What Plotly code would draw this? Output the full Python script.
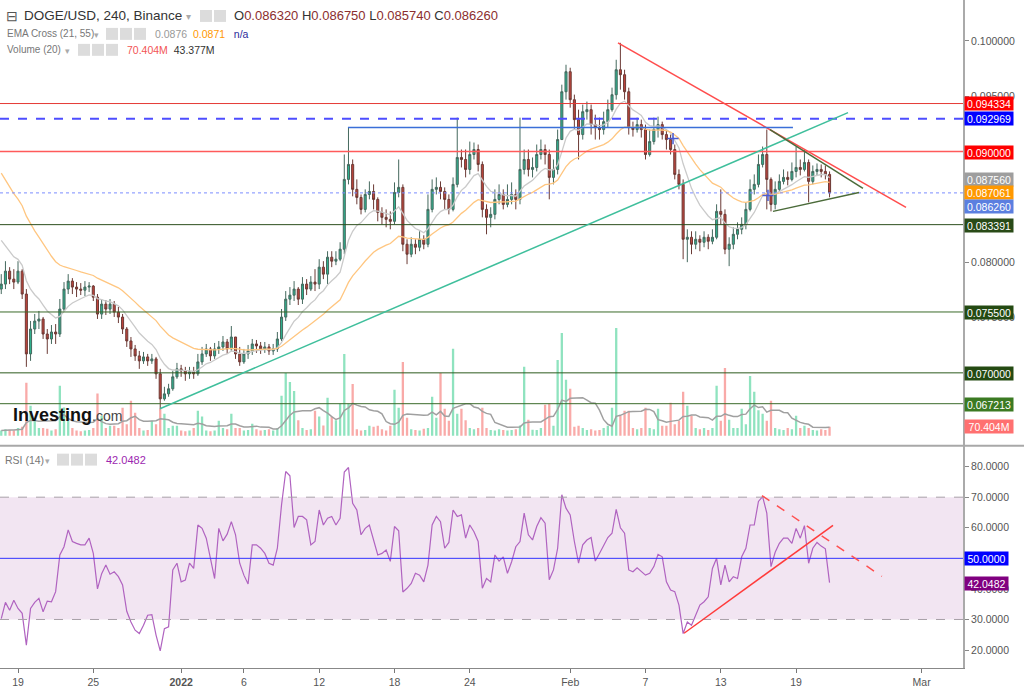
import pandas as pd
import plotly.graph_objects as go

# ---- data (8h candles) ----
START = "2021-12-17 16:00"
FIRST_OPEN = 0.07757

closes = [
    0.07802, 0.07919, 0.07847, 0.07820, 0.07919, 0.07712, 0.07171,
    0.07396, 0.07468, 0.07486, 0.07351, 0.07306, 0.07369, 0.07351,
    0.07576, 0.07757, 0.07829, 0.07775, 0.07757, 0.07747, 0.07775,
    0.07784, 0.07684, 0.07531, 0.07621, 0.07576, 0.07621, 0.07549,
    0.07504, 0.07396, 0.07288, 0.07216, 0.07153, 0.07108, 0.07144,
    0.07108, 0.07126, 0.06991, 0.06765, 0.06810, 0.06856, 0.06964,
    0.07036, 0.07018, 0.06991, 0.07009, 0.06991, 0.07099, 0.07171,
    0.07216, 0.07153, 0.07216, 0.07234, 0.07279, 0.07216, 0.07324,
    0.07171, 0.07099, 0.07171, 0.07198, 0.07261, 0.07243, 0.07216,
    0.07234, 0.07198, 0.07216, 0.07306, 0.07504, 0.07666, 0.07702,
    0.07757, 0.07666, 0.07802, 0.07757, 0.07820, 0.07802, 0.07955,
    0.07892, 0.08045, 0.08009, 0.08027, 0.08117, 0.08748, 0.08883,
    0.08658, 0.08585, 0.08477, 0.08612, 0.08639, 0.08567, 0.08450,
    0.08405, 0.08387, 0.08369, 0.08630, 0.08676, 0.08162, 0.08072,
    0.08162, 0.08135, 0.08207, 0.08162, 0.08477, 0.08658, 0.08676,
    0.08639, 0.08567, 0.08477, 0.08703, 0.08946, 0.08928, 0.08838,
    0.08973, 0.09018, 0.08883, 0.08477, 0.08405, 0.08432, 0.08567,
    0.08612, 0.08522, 0.08567, 0.08612, 0.08567, 0.08838, 0.08928,
    0.08838, 0.08856, 0.08973, 0.09018, 0.08973, 0.08766, 0.08838,
    0.09108, 0.09540, 0.09721, 0.09468, 0.09288, 0.09153, 0.09360,
    0.09378, 0.09243, 0.09216, 0.09198, 0.09270, 0.09378, 0.09513,
    0.09739, 0.09694, 0.09540, 0.09216, 0.09198, 0.09243, 0.09198,
    0.08973, 0.09090, 0.09198, 0.09243, 0.09153, 0.09108, 0.09018,
    0.08793, 0.08703, 0.08207, 0.08225, 0.08162, 0.08207, 0.08180,
    0.08225, 0.08189, 0.08225, 0.08459, 0.08432, 0.08117, 0.08162,
    0.08252, 0.08297, 0.08342, 0.08477, 0.08658, 0.08703, 0.08883,
    0.08973, 0.08748, 0.08522, 0.08658, 0.08730, 0.08766, 0.08748,
    0.08820, 0.08856, 0.08838, 0.08901, 0.08730, 0.08820, 0.08838,
    0.08820, 0.08793, 0.08626,
]

highs = [
    0.07892, 0.08009, 0.07955, 0.07937, 0.08009, 0.07937, 0.07757,
    0.07469, 0.07532, 0.07559, 0.07505, 0.07396, 0.07432, 0.07441,
    0.07667, 0.07820, 0.07892, 0.07856, 0.07820, 0.07811, 0.07829,
    0.07820, 0.07793, 0.07712, 0.07667, 0.07658, 0.07667, 0.07649,
    0.07595, 0.07532, 0.07414, 0.07324, 0.07252, 0.07198, 0.07189,
    0.07171, 0.07171, 0.07144, 0.07036, 0.06874, 0.06901, 0.07018,
    0.07090, 0.07072, 0.07054, 0.07054, 0.07054, 0.07171, 0.07234,
    0.07261, 0.07234, 0.07270, 0.07288, 0.07333, 0.07306, 0.07423,
    0.07324, 0.07234, 0.07216, 0.07252, 0.07306, 0.07297, 0.07279,
    0.07279, 0.07261, 0.07261, 0.07369, 0.07577, 0.07739, 0.07775,
    0.07829, 0.07775, 0.07865, 0.07847, 0.07874, 0.07937, 0.08027,
    0.08009, 0.08099, 0.08099, 0.08099, 0.08180, 0.08973, 0.09216,
    0.08928, 0.08748, 0.08612, 0.08658, 0.08730, 0.08703, 0.08586,
    0.08496, 0.08477, 0.08459, 0.08721, 0.08928, 0.08703, 0.08207,
    0.08225, 0.08207, 0.08279, 0.08243, 0.08612, 0.08748, 0.08766,
    0.08730, 0.08676, 0.08612, 0.08766, 0.09306, 0.09018, 0.09018,
    0.09090, 0.09081, 0.09063, 0.08910, 0.08523, 0.08496, 0.08658,
    0.08703, 0.08658, 0.08703, 0.08721, 0.08658, 0.09306, 0.09018,
    0.09018, 0.08946, 0.09063, 0.09108, 0.09063, 0.09018, 0.08928,
    0.09198, 0.09604, 0.09784, 0.09757, 0.09514, 0.09378, 0.09424,
    0.09451, 0.09424, 0.09333, 0.09306, 0.09360, 0.09469, 0.09577,
    0.09829, 0.09982, 0.09739, 0.09577, 0.09270, 0.09306, 0.09288,
    0.09243, 0.09198, 0.09306, 0.09315, 0.09270, 0.09198, 0.09153,
    0.09063, 0.08838, 0.08748, 0.08297, 0.08279, 0.08279, 0.08243,
    0.08279, 0.08252, 0.08297, 0.08523, 0.08658, 0.08477, 0.08225,
    0.08315, 0.08360, 0.08405, 0.08541, 0.08748, 0.08793, 0.08973,
    0.09045, 0.09198, 0.08766, 0.08730, 0.08793, 0.08838, 0.08820,
    0.08901, 0.09045, 0.08928, 0.09018, 0.08928, 0.08874, 0.08892,
    0.08883, 0.08874, 0.08820,
]

lows = [
    0.07712, 0.07757, 0.07802, 0.07757, 0.07802, 0.07667, 0.07054,
    0.07108, 0.07351, 0.07396, 0.07306, 0.07171, 0.07261, 0.07261,
    0.07324, 0.07559, 0.07712, 0.07712, 0.07685, 0.07703, 0.07694,
    0.07730, 0.07649, 0.07487, 0.07487, 0.07523, 0.07532, 0.07505,
    0.07450, 0.07351, 0.07234, 0.07144, 0.07108, 0.07036, 0.07081,
    0.07063, 0.07081, 0.06946, 0.06658, 0.06748, 0.06784, 0.06838,
    0.06946, 0.06964, 0.06928, 0.06946, 0.06946, 0.06973, 0.07072,
    0.07144, 0.07108, 0.07126, 0.07171, 0.07198, 0.07171, 0.07198,
    0.07126, 0.07063, 0.07081, 0.07126, 0.07162, 0.07180, 0.07171,
    0.07180, 0.07162, 0.07162, 0.07189, 0.07288, 0.07469, 0.07613,
    0.07649, 0.07613, 0.07622, 0.07703, 0.07739, 0.07739, 0.07757,
    0.07847, 0.07802, 0.07955, 0.07973, 0.08009, 0.08072, 0.08703,
    0.08595, 0.08523, 0.08432, 0.08450, 0.08568, 0.08477, 0.08369,
    0.08342, 0.08315, 0.08297, 0.08342, 0.08586, 0.08099, 0.07982,
    0.08045, 0.08072, 0.08099, 0.08117, 0.08135, 0.08450, 0.08612,
    0.08568, 0.08477, 0.08432, 0.08459, 0.08676, 0.08856, 0.08766,
    0.08793, 0.08928, 0.08820, 0.08405, 0.08252, 0.08315, 0.08387,
    0.08523, 0.08477, 0.08496, 0.08523, 0.08477, 0.08523, 0.08793,
    0.08775, 0.08766, 0.08820, 0.08928, 0.08883, 0.08568, 0.08703,
    0.08793, 0.09108, 0.09469, 0.09396, 0.09198, 0.08928, 0.09108,
    0.09288, 0.09153, 0.09108, 0.09108, 0.09153, 0.09216, 0.09360,
    0.09469, 0.09559, 0.09469, 0.09153, 0.09135, 0.09171, 0.09126,
    0.08928, 0.08955, 0.09063, 0.09126, 0.09108, 0.09018, 0.08973,
    0.08748, 0.08658, 0.08027, 0.08000, 0.08072, 0.08117, 0.08099,
    0.08135, 0.08117, 0.08162, 0.08207, 0.08342, 0.08072, 0.07964,
    0.08117, 0.08207, 0.08252, 0.08297, 0.08459, 0.08612, 0.08676,
    0.08856, 0.08477, 0.08459, 0.08477, 0.08640, 0.08703, 0.08694,
    0.08730, 0.08766, 0.08784, 0.08820, 0.08541, 0.08703, 0.08784,
    0.08766, 0.08748, 0.08586,
]

volumes = [  # millions
    40, 50, 45, 40, 60, 70, 415, 235, 117, 60,
    60, 55, 40, 50, 390, 220, 117, 60, 40, 35,
    40, 45, 60, 330, 156, 60, 78, 78, 60, 218,
    90, 273, 180, 60, 40, 45, 117, 90, 210, 172,
    60, 78, 78, 40, 35, 40, 60, 195, 150, 40,
    35, 40, 117, 60, 50, 172, 60, 60, 40, 45,
    94, 50, 40, 45, 50, 40, 60, 312, 490, 420,
    350, 120, 60, 45, 50, 195, 150, 80, 296, 150,
    120, 250, 640, 250, 405, 50, 40, 45, 78, 70,
    78, 50, 40, 78, 360, 218, 577, 140, 50, 45,
    40, 55, 60, 304, 140, 490, 210, 117, 680, 172,
    210, 120, 60, 50, 60, 218, 60, 45, 40, 50,
    45, 40, 45, 50, 80, 540, 125, 47, 45, 60,
    242, 250, 78, 593, 803, 437, 367, 70, 78, 60,
    45, 50, 40, 45, 60, 78, 218, 842, 156, 195,
    195, 60, 50, 60, 218, 60, 50, 210, 78, 78,
    257, 90, 117, 343, 234, 156, 60, 50, 60, 45,
    60, 390, 117, 530, 125, 60, 60, 210, 90, 468,
    343, 200, 172, 117, 273, 60, 50, 45, 60, 50,
    156, 60, 78, 60, 45, 40, 50, 45, 70.404,
]

rsi_vals = [
    30.3, 35.6, 33.0, 36.3, 33.6, 32.0, 21.6, 33.6, 35.6, 36.9,
    32.5, 36.0, 35.8, 39.1, 51.1, 53.8, 59.3, 55.5, 54.9, 54.4,
    54.4, 56.6, 51.6, 40.0, 45.0, 47.8, 44.8, 45.6, 44.0, 41.3,
    32.7, 29.2, 26.5, 25.4, 28.1, 31.4, 31.6, 24.9, 19.7, 27.0,
    27.6, 46.2, 48.4, 42.3, 42.9, 48.4, 46.7, 60.9, 59.8, 56.6,
    50.0, 43.4, 59.8, 55.7, 57.9, 62.0, 57.7, 48.4, 44.5, 41.6,
    54.4, 54.4, 53.3, 51.6, 48.4, 47.8, 53.3, 67.5, 78.4, 77.0,
    60.1, 63.7, 63.7, 62.6, 54.4, 55.5, 65.8, 60.9, 63.1, 63.7,
    60.9, 63.1, 78.2, 79.7, 68.0, 65.8, 57.7, 59.8, 60.9, 55.5,
    51.1, 51.6, 52.7, 49.0, 60.4, 59.0, 39.0, 40.2, 41.8, 45.1,
    44.5, 42.3, 47.8, 60.9, 63.7, 62.0, 53.3, 55.2, 65.8, 63.7,
    64.2, 56.6, 60.9, 58.7, 55.5, 40.2, 43.4, 42.3, 51.1, 49.1,
    50.5, 45.1, 48.9, 53.8, 55.5, 64.8, 57.7, 56.0, 60.4, 63.3,
    61.5, 43.0, 46.2, 53.3, 70.8, 66.4, 64.2, 55.5, 48.4, 54.4,
    56.0, 56.8, 49.1, 51.6, 54.4, 56.8, 58.2, 66.0, 60.0, 58.2,
    46.2, 45.6, 46.9, 45.6, 44.5, 45.1, 47.3, 51.3, 50.5, 42.3,
    39.6, 39.1, 34.7, 25.4, 29.2, 28.1, 31.4, 34.7, 35.8, 37.4,
    46.7, 50.0, 41.3, 47.8, 42.3, 44.0, 43.4, 50.5, 53.3, 60.9,
    60.9, 68.6, 70.2, 64.8, 47.3, 52.0, 54.9, 56.6, 56.6, 54.9,
    59.8, 56.6, 60.7, 48.4, 53.3, 55.2, 54.0, 53.1, 42.0482,
]

EMA21_SEED = 0.0828
EMA55_SEED = 0.0888

level_prices = [0.094334, 0.092969, 0.090000, 0.083391, 0.075500, 0.070000, 0.067213]
level_colors = ["#e53935", "#4d4dff", "#ff5a5a", "#2d4f1e", "#3b6b2a", "#2d5a1e", "#3b6b2a"]
level_widths = [1, 2, 1.5, 1, 1, 1, 1]
level_dash = ["solid", "dash", "solid", "solid", "solid", "solid", "solid"]
last_price = 0.086260

box_texts = ["0.094334", "0.092969", "0.090000", "0.087560", "0.087061", "0.086260",
             "0.083391", "0.075500", "0.070000", "0.067213", "70.404M", "50.0000", "42.0482"]
box_colors = ["#ff0000", "#0000ff", "#ff0000", "#9e9e9e", "#ff9800", "#5b7fe0",
              "#294a17", "#244a12", "#244a12", "#3b7a22", "#ff7070", "#0000ff", "#800080"]
box_rows = [104, 119, 152.5, 180, 193, 207, 226, 313, 375, 406, 428, 560, 585]
box_widths = [46, 46, 46, 46, 46, 46, 46, 46, 46, 46, 46, 41, 41]

# price / rsi ticks that are not fully hidden behind a label box
price_ticks = [0.075, 0.080, 0.095, 0.100]
rsi_ticks = [20, 30, 40, 60, 70, 80]

tick_dates = ["2021-12-19", "2021-12-25", "2022-01-01", "2022-01-06", "2022-01-12", "2022-01-18",
              "2022-01-24", "2022-02-01", "2022-02-07", "2022-02-13", "2022-02-19", "2022-03-01"]
tick_text = ["19", "25", "<b>2022</b>", "6", "12", "18", "24", "Feb", "7", "13", "19", "Mar"]

# trend lines: (t0, p0, t1, p1, color, dash)
main_trends = [
    ("2022-02-04 19:26", 0.09982, "2022-02-27 18:14", 0.08496, "#ff4d4d", "solid"),
    ("2021-12-30 07:26", 0.06676, "2022-02-23 03:20", 0.09351, "#3fbf9c", "solid"),
    ("2022-01-14 07:00", 0.09216, "2022-02-18 18:00", 0.09216, "#3a6fd8", "solid"),
    ("2022-02-16 22:05", 0.09198, "2022-02-24 07:55", 0.08667, "#4b6b3a", "solid"),
    ("2022-02-17 03:50", 0.08459, "2022-02-24 00:15", 0.08630, "#4b6b3a", "solid"),
]
rsi_trends = [
    ("2022-02-10 01:40", 25.5, "2022-02-21 22:34", 60.8, "#ff3b3b", "solid"),
    ("2022-02-16 06:43", 70.5, "2022-02-25 20:10", 44.1, "#ff5050", "dash"),
]
cross_times = ["2022-02-09 04:40", "2022-02-16 18:15"]
cross_prices = [0.09117, 0.08603]

# ---- derived series ----
times = pd.date_range(START, periods=len(closes), freq="8h")
opens = [FIRST_OPEN] + closes[:-1]
highs = [max(h, o, c) for h, o, c in zip(highs, opens, closes)]
lows = [min(l, o, c) for l, o, c in zip(lows, opens, closes)]
ema21 = pd.Series([EMA21_SEED] + closes).ewm(span=10.5, adjust=False).mean().iloc[1:]
ema55 = pd.Series([EMA55_SEED] + closes).ewm(span=27.5, adjust=False).mean().iloc[1:]
vol_ma = pd.Series(volumes).rolling(10, min_periods=1).mean()
vol_colors = ["#8fe3bf" if c >= o else "#f9aaa8" for o, c in zip(opens, closes)]

W_PLOT, H_PLOT = 963, 670
FONT = "Liberation Sans"


def px(x):
    return x / W_PLOT


def py(y):
    return 1 - y / H_PLOT


fig = go.Figure()

fig.add_trace(go.Bar(
    x=times, y=volumes, yaxis="y3", marker_color=vol_colors,
    marker_line_width=0, width=8 * 3600 * 1000 * 0.55,
))
fig.add_trace(go.Scatter(
    x=times, y=vol_ma, yaxis="y3", mode="lines",
    line=dict(color="#a0a0a0", width=1.5),
))
fig.add_trace(go.Scatter(x=times, y=ema21, mode="lines", line=dict(color="#cacaca", width=1.3)))
fig.add_trace(go.Scatter(x=times, y=ema55, mode="lines", line=dict(color="#ffc680", width=1.3)))
fig.add_trace(go.Candlestick(
    x=times, open=opens, high=highs, low=lows, close=closes,
    increasing=dict(fillcolor="#2fb08e", line=dict(color="#45695e", width=1)),
    decreasing=dict(fillcolor="#c1443c", line=dict(color="#6b3a35", width=1)),
))
fig.add_trace(go.Scatter(
    x=cross_times, y=cross_prices, mode="markers",
    marker=dict(symbol="cross-thin", size=8, line=dict(color="#4a5bd4", width=1.5)),
))
fig.add_trace(go.Scatter(
    x=times, y=rsi_vals, yaxis="y2", mode="lines",
    line=dict(color="#b063c0", width=1.2),
))

shapes = []
# rsi band
shapes.append(dict(type="rect", xref="paper", x0=0, x1=1, yref="y2", y0=30, y1=70,
                   fillcolor="#f2e5f2", line_width=0, layer="below"))
for v in (70, 30):
    shapes.append(dict(type="line", xref="paper", x0=0, x1=1, yref="y2", y0=v, y1=v,
                       line=dict(color="#a8a0a8", width=1, dash="dash")))
shapes.append(dict(type="line", xref="paper", x0=0, x1=1, yref="y2", y0=50, y1=50,
                   line=dict(color="#3333ff", width=1)))
for p, c, w, d in zip(level_prices, level_colors, level_widths, level_dash):
    shapes.append(dict(type="line", xref="paper", x0=0, x1=1, yref="y", y0=p, y1=p,
                       line=dict(color=c, width=w, dash=d)))
shapes.append(dict(type="line", xref="paper", x0=0, x1=1, yref="y", y0=last_price, y1=last_price,
                   line=dict(color="#7b8cff", width=1, dash="dot")))
for t0, p0, t1, p1, c, d in main_trends:
    shapes.append(dict(type="line", xref="x", yref="y", x0=t0, y0=p0, x1=t1, y1=p1,
                       line=dict(color=c, width=1.5, dash=d)))
for t0, p0, t1, p1, c, d in rsi_trends:
    shapes.append(dict(type="line", xref="x", yref="y2", x0=t0, y0=p0, x1=t1, y1=p1,
                       line=dict(color=c, width=1.5, dash=d)))
# pane separator
shapes.append(dict(type="line", xref="paper", yref="paper", x0=0, x1=1024 / W_PLOT,
                   y0=py(447), y1=py(447), line=dict(color="#a8a8a8", width=2)))
# header icons
icon_sets = [(200, 10, 2), (106, 28, 3), (78, 44, 3), (57, 455, 3)]
for x0, y0, n in icon_sets:
    for k in range(n):
        shapes.append(dict(type="rect", xref="paper", yref="paper",
                           x0=px(x0 + 14 * k), x1=px(x0 + 14 * k + 12),
                           y0=py(y0 + 12), y1=py(y0), fillcolor="#dcdcdc", line_width=0))

ann = []
for txt, col, row, w in zip(box_texts, box_colors, box_rows, box_widths):
    ann.append(dict(xref="paper", yref="paper", x=1, xshift=1, y=py(row), xanchor="left",
                    yanchor="middle", text=txt, showarrow=False, bgcolor=col,
                    font=dict(color="white", size=10.5, family=FONT),
                    width=w, height=11, borderpad=1, align="center"))


def label(x, y, text, size=11, color="#666"):
    ann.append(dict(xref="paper", yref="paper", x=px(x), y=py(y), xanchor="left",
                    yanchor="middle", text=text, showarrow=False,
                    font=dict(size=size, color=color, family=FONT)))


label(4, 16, "⊟", 14, "#555")
label(22, 16, "DOGE/USD, 240, Binance", 13.5, "#333")
label(184, 17, "▾", 10, "#aaa")
red = "#8b2e2e"
label(232, 16, f"O<span style='color:{red}'>0.086320</span> H<span style='color:{red}'>0.086750</span>"
      f" L<span style='color:{red}'>0.085740</span> C<span style='color:{red}'>0.086260</span>", 13, "#333")
label(5, 34, "EMA Cross (21, 55)", 10, "#777")
label(92, 35, "▾", 9, "#aaa")
label(153, 34, "<span style='color:#999'>0.0876</span>  <span style='color:#ff9800'>0.0871</span>"
      "   <span style='color:#2a2a9a'>n/a</span>", 10.5)
label(5, 50, "Volume (20)", 10, "#777")
label(63, 51, "▾", 9, "#aaa")
label(125, 50, "<span style='color:#f25555'>70.404M</span>  <span style='color:#333'>43.377M</span>", 10.5)
label(3, 461, "RSI (14)", 10.5, "#777")
label(43, 462, "▾", 9, "#aaa")
label(104, 461, "42.0482", 11, "#9c27b0")
label(11, 416, "<b>Investing</b><span style='font-size:14px;color:#444'>.com</span>", 18, "#111")

fig.update_layout(
    width=1024, height=688,
    margin=dict(l=0, r=61, t=0, b=18),
    plot_bgcolor="white", paper_bgcolor="white",
    showlegend=False, hovermode=False,
    shapes=shapes, annotations=ann,
    font=dict(family=FONT, size=11, color="#555"),
    xaxis=dict(
        type="date", range=["2021-12-17 13:35", "2022-03-04 07:12"],
        tickvals=tick_dates, ticktext=tick_text, anchor="y2",
        ticks="outside", ticklen=4, tickcolor="#777",
        showline=True, linecolor="#888", linewidth=1,
        showgrid=False, zeroline=False, rangeslider=dict(visible=False),
        tickfont=dict(size=10.5, color="#555"),
    ),
    yaxis=dict(
        domain=[py(447), 1], range=[0.06342, 0.10369], side="right",
        tickvals=price_ticks,
        tickformat=".6f", ticks="outside", ticklen=4, tickcolor="#888",
        showline=True, linecolor="#aaa", linewidth=2,
        showgrid=False, zeroline=False, tickfont=dict(size=10.5, color="#555"),
    ),
    yaxis2=dict(
        domain=[0, py(447)], range=[14.13, 86.85], side="right", anchor="x",
        tickvals=rsi_ticks, tickformat=".4f",
        ticks="outside", ticklen=4, tickcolor="#888",
        showline=True, linecolor="#aaa", linewidth=2,
        showgrid=False, zeroline=False, tickfont=dict(size=10.5, color="#555"),
    ),
    yaxis3=dict(overlaying="y", range=[-78, 3409], visible=False),
)

fig.write_html("out.html", config={"displayModeBar": False},
               post_script="document.body.style.margin='0';")
